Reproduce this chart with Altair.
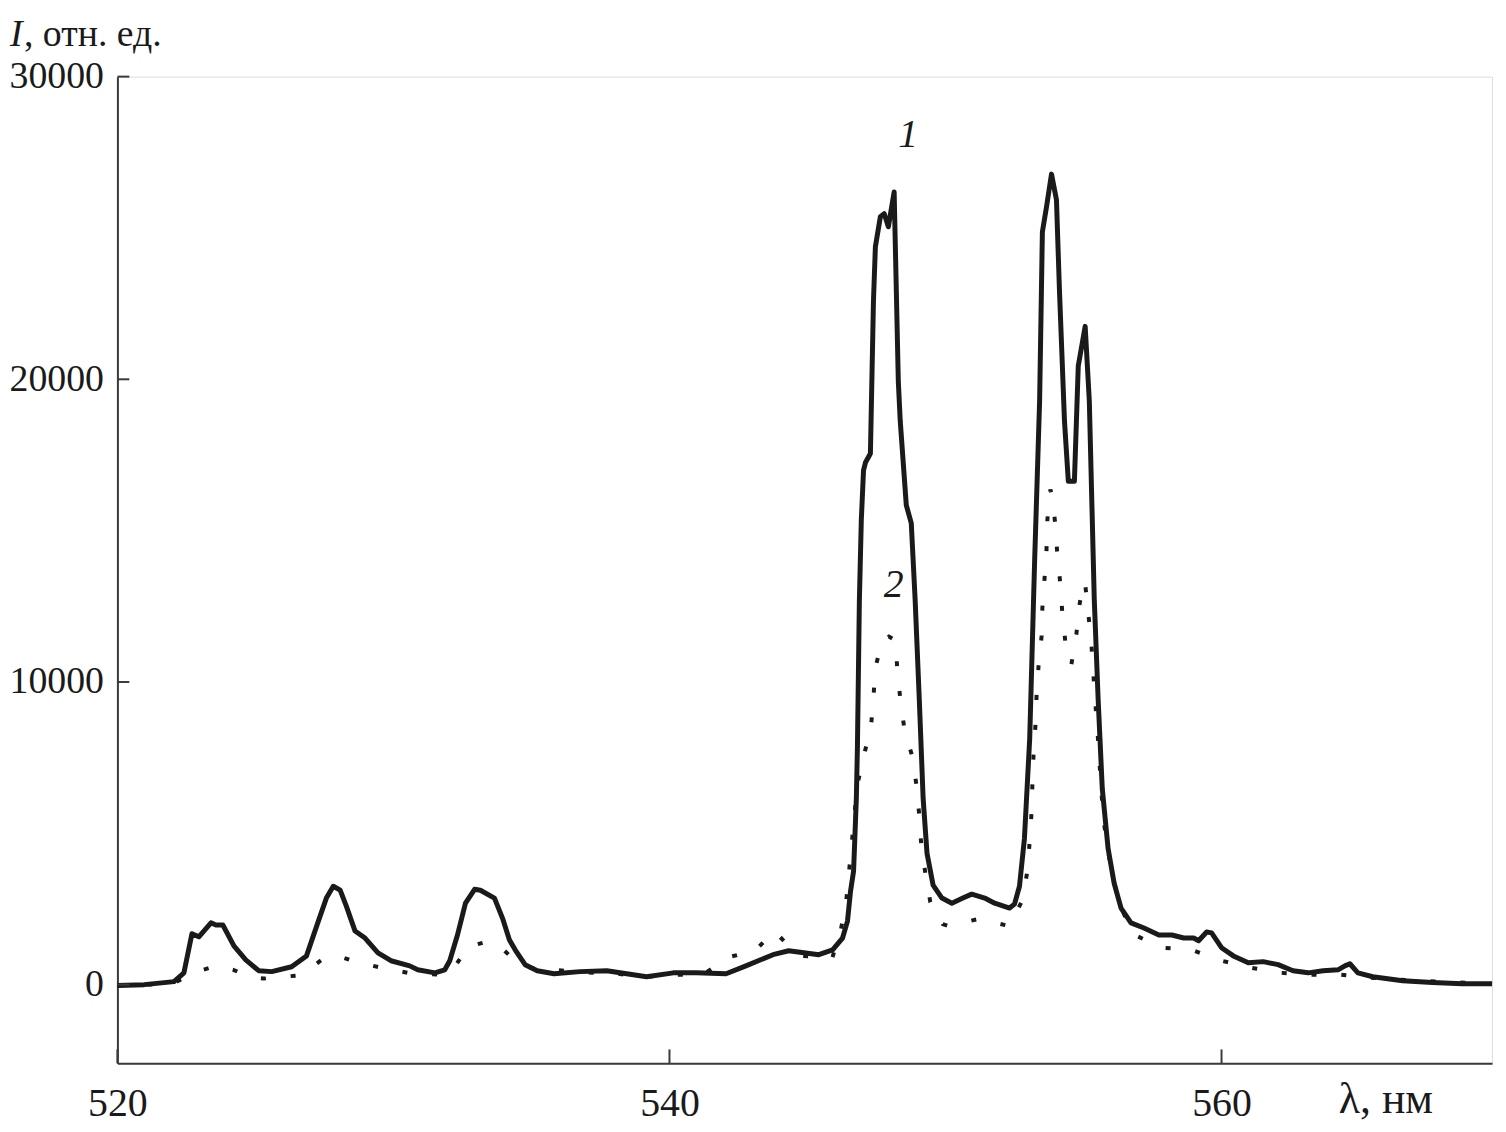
import altair as alt
import pandas as pd

# ---- data ----
wl1 = [520.00, 520.97, 522.05, 522.41, 522.70, 522.95, 523.39, 523.57, 523.82, 524.22,
       524.65, 525.12, 525.59, 526.31, 526.85, 527.28, 527.57, 527.82, 528.07, 528.29,
       528.61, 528.97, 529.44, 529.91, 530.59, 530.88, 531.50, 531.86, 532.04, 532.32,
       532.61, 532.94, 533.15, 533.66, 533.95, 534.20, 534.41, 534.77, 535.21, 535.82,
       536.76, 537.73, 539.17, 540.14, 540.97, 542.05, 542.77, 543.75, 544.32, 545.41,
       545.91, 546.27, 546.45, 546.56, 546.67, 546.77, 546.81, 546.88, 546.95, 547.03,
       547.10, 547.28, 547.39, 547.46, 547.64, 547.78, 547.93, 548.14, 548.29, 548.36,
       548.58, 548.76, 548.90, 549.05, 549.19, 549.33, 549.55, 549.87, 550.23, 550.63,
       550.95, 551.42, 551.78, 552.32, 552.50, 552.68, 552.86, 553.05, 553.23, 553.41,
       553.51, 553.66, 553.84, 554.02, 554.13, 554.31, 554.45, 554.67, 554.81, 555.06,
       555.21, 555.39, 555.53, 555.68, 555.89, 556.11, 556.36, 556.72, 557.19, 557.73,
       558.20, 558.63, 558.99, 559.17, 559.46, 559.64, 560.00, 560.43, 560.97, 561.51,
       562.05, 562.59, 563.14, 563.68, 564.22, 564.47, 564.65, 564.94, 565.48, 566.56,
       567.64, 568.72, 569.80]
i1 = [-30, 0, 100, 390, 1680, 1580, 2040, 1970, 1970, 1280,
      820, 460, 430, 590, 950, 2100, 2860, 3250, 3120, 2600,
      1770, 1540, 1050, 790, 620, 490, 390, 490, 790, 1640,
      2690, 3150, 3120, 2860, 2200, 1480, 1150, 660, 460, 360,
      430, 460, 260, 390, 390, 360, 620, 990, 1120, 990,
      1150, 1540, 2100, 3090, 3750, 6150, 7890, 12700, 15350, 16990,
      17250, 17550, 22580, 24380, 25370, 25470, 25040, 26190, 19950, 18630,
      15840, 15250, 12720, 9430, 6150, 4340, 3290, 2860, 2690, 2860,
      2990, 2860, 2690, 2530, 2660, 3250, 4830, 8120, 14030, 19290,
      24870, 25700, 26780, 25930, 22900, 18630, 16630, 16630, 20440, 21750,
      19290, 12720, 9430, 6470, 4500, 3350, 2530, 2040, 1870, 1640,
      1640, 1540, 1540, 1450, 1740, 1710, 1220, 950, 720, 760,
      660, 460, 390, 460, 490, 620, 690, 390, 260, 130,
      70, 30, 30]

wl2 = [520.00, 521.00, 522.00, 522.60, 523.10, 523.60, 524.20, 524.80, 525.30, 526.50,
       527.00, 527.50, 528.00, 528.60, 529.70, 530.70, 531.90, 532.30, 532.70, 533.30,
       533.80, 534.40, 535.00, 535.80, 536.90, 538.00, 539.00, 540.20, 541.20, 542.20,
       543.10, 543.80, 544.30, 544.80, 545.90, 546.20, 546.40, 546.50, 546.60, 546.80,
       547.03, 547.30, 547.39, 547.45, 547.70, 547.95, 548.20, 548.25, 548.36, 548.50,
       548.80, 548.95, 549.05, 549.12, 549.27, 549.45, 549.90, 550.10, 551.20, 552.30,
       552.79, 552.97, 553.05, 553.12, 553.15, 553.19, 553.26, 553.30, 553.37, 553.48,
       553.51, 553.59, 553.66, 553.69, 553.80, 553.87, 553.98, 554.05, 554.16, 554.23,
       554.34, 554.56, 554.74, 554.85, 554.99, 555.06, 555.17, 555.28, 555.35, 555.42,
       555.50, 555.57, 555.64, 555.71, 555.86, 556.04, 556.32, 556.76, 557.84, 558.92,
       560.00, 561.05, 562.16, 563.24, 564.32, 565.41, 567.00, 569.80]
i2 = [-30, 0, 30, 300, 490, 620, 490, 250, 200, 300,
      550, 890, 950, 760, 530, 360, 330, 700, 1250, 1400,
      1310, 800, 550, 490, 400, 380, 250, 330, 330, 920,
      1120, 1770, 1300, 950, 890, 1770, 2730, 3680, 4630, 6570,
      7520, 8510, 9460, 10420, 11370, 11500, 11370, 10420, 9460, 8510,
      7520, 6570, 5590, 4630, 3680, 2730, 2000, 1940, 2170, 1940,
      2790, 3780, 4730, 5720, 6670, 7620, 8580, 9560, 10520, 11500,
      12450, 13440, 14390, 15350, 16360, 16130, 15180, 14230, 13240, 12290,
      11340, 10580, 11570, 12520, 13310, 13240, 12290, 11340, 10350, 9400,
      8450, 7460, 6510, 5550, 4570, 3610, 2660, 1680, 1220, 1150,
      790, 560, 390, 330, 330, 230, 130, 30]

x_ticks = [520, 540, 560]
y_ticks = [0, 10000, 20000, 30000]
curve_labels = ["1", "2"]
label_wl = [548.65, 548.12]
label_i = [28060, 13210]

X_DOMAIN = [520, 569.8]
Y_DOMAIN = [-2600, 30000]
W, H = 1382, 992
FONT = "Liberation Serif"
INK = "#1a1a1a"
AXIS = "#3a3a3a"

xs = alt.Scale(domain=X_DOMAIN, nice=False, zero=False)
ys = alt.Scale(domain=Y_DOMAIN, nice=False, zero=False)

df1 = pd.DataFrame({"wl": wl1, "I": i1})
df2 = pd.DataFrame({"wl": wl2, "I": i2})

x_axis = alt.Axis(values=x_ticks, tickSize=0, labelFontSize=40, labelFont=FONT,
                  labelColor=INK, labelPadding=20, labelFlush=False,
                  domainColor=AXIS, domainWidth=2, grid=False, title=None, format="d")
y_axis = alt.Axis(values=y_ticks, tickSize=0, labelFontSize=38, labelFont=FONT,
                  labelColor=INK, labelPadding=14, labelFlush=False,
                  domainColor=AXIS, domainWidth=2, grid=False, title=None, format="d")

line1 = alt.Chart(df1).mark_line(color=INK, strokeWidth=5, strokeJoin="round").encode(
    x=alt.X("wl:Q", scale=xs, axis=x_axis),
    y=alt.Y("I:Q", scale=ys, axis=y_axis),
)

line2 = alt.Chart(df2).mark_line(color=INK, strokeWidth=4, strokeDash=[5, 25],
                                 strokeCap="butt").encode(
    x=alt.X("wl:Q", scale=xs),
    y=alt.Y("I:Q", scale=ys),
)

yt = alt.Chart(pd.DataFrame({"v": y_ticks})).mark_rule(color=AXIS, strokeWidth=2).encode(
    y=alt.Y("v:Q", scale=ys), x=alt.value(0), x2=alt.value(12)
)
xt = alt.Chart(pd.DataFrame({"v": x_ticks})).mark_rule(color=AXIS, strokeWidth=2).encode(
    x=alt.X("v:Q", scale=xs), y=alt.value(H), y2=alt.value(H - 14)
)

labels = alt.Chart(pd.DataFrame({"t": curve_labels, "wl": label_wl, "I": label_i})).mark_text(
    font=FONT, fontSize=40, fontStyle="italic", color=INK
).encode(x=alt.X("wl:Q", scale=xs), y=alt.Y("I:Q", scale=ys), text="t:N")

t_I = alt.Chart(pd.DataFrame({"t": ["I"]})).mark_text(
    font=FONT, fontSize=38, fontStyle="italic", color=INK, align="left", baseline="alphabetic"
).encode(text="t:N", x=alt.value(-108), y=alt.value(-31))
t_unit = alt.Chart(pd.DataFrame({"t": [", отн. ед."]})).mark_text(
    font=FONT, fontSize=38, color=INK, align="left", baseline="alphabetic"
).encode(text="t:N", x=alt.value(-94), y=alt.value(-31))
t_x = alt.Chart(pd.DataFrame({"t": ["λ, нм"]})).mark_text(
    font=FONT, fontSize=44, color=INK, align="left", baseline="alphabetic"
).encode(text="t:N", x=alt.value(1228), y=alt.value(H + 50))

chart = alt.layer(line2, line1, yt, xt, labels, t_I, t_unit, t_x).properties(
    width=W, height=H,
    autosize=alt.AutoSizeParams(type="none"),
    padding={"left": 110, "top": 66, "right": 6, "bottom": 60},
).configure_view(stroke=None).configure(background="white")

chart.save("out.html", embed_options={"renderer": "svg", "actions": False})
